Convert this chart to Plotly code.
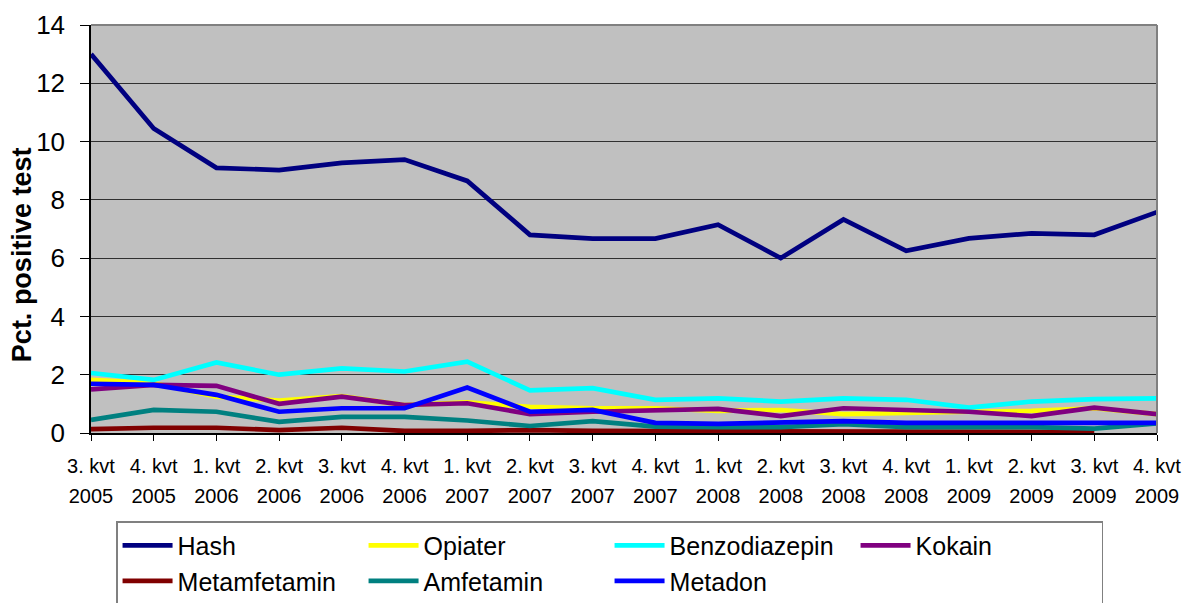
import plotly.graph_objects as go

quarters = ["3. kvt", "4. kvt", "1. kvt", "2. kvt", "3. kvt", "4. kvt", "1. kvt", "2. kvt", "3. kvt",
            "4. kvt", "1. kvt", "2. kvt", "3. kvt", "4. kvt", "1. kvt", "2. kvt", "3. kvt", "4. kvt"]
years = ["2005", "2005", "2006", "2006", "2006", "2006", "2007", "2007", "2007",
         "2007", "2008", "2008", "2008", "2008", "2009", "2009", "2009", "2009"]

hash_ = [13.0, 10.45, 9.1, 9.02, 9.27, 9.38, 8.65, 6.8, 6.67, 6.67, 7.15, 6.0, 7.33, 6.25, 6.68, 6.85, 6.8, 7.58]
opiater = [1.82, 1.71, 1.25, 1.11, 1.27, 0.96, 1.05, 0.9, 0.85, 0.85, 0.76, 0.79, 0.65, 0.71, 0.73, 0.76, 0.85, 0.65]
benzo = [2.06, 1.82, 2.42, 2.0, 2.22, 2.11, 2.45, 1.46, 1.54, 1.14, 1.19, 1.08, 1.19, 1.14, 0.87, 1.08, 1.16, 1.19]
kokain = [1.5, 1.65, 1.62, 1.0, 1.25, 0.96, 1.02, 0.65, 0.73, 0.79, 0.83, 0.58, 0.85, 0.79, 0.73, 0.58, 0.87, 0.65]
metamfetamin = [0.13, 0.18, 0.18, 0.1, 0.18, 0.07, 0.07, 0.1, 0.07, 0.07, 0.07, 0.05, 0.07, 0.07, 0.07, 0.07, 0.03, None]
amfetamin = [0.45, 0.79, 0.73, 0.38, 0.55, 0.55, 0.43, 0.24, 0.41, 0.22, 0.2, 0.2, 0.3, 0.2, 0.2, 0.2, 0.15, 0.33]
metadon = [1.69, 1.65, 1.31, 0.73, 0.85, 0.85, 1.56, 0.73, 0.79, 0.35, 0.31, 0.35, 0.41, 0.35, 0.35, 0.35, 0.35, 0.35]

series = [
    ("Hash", hash_, "#000080"),
    ("Opiater", opiater, "#FFFF00"),
    ("Benzodiazepin", benzo, "#00FFFF"),
    ("Kokain", kokain, "#800080"),
    ("Metamfetamin", metamfetamin, "#800000"),
    ("Amfetamin", amfetamin, "#008080"),
    ("Metadon", metadon, "#0000FF"),
]

x = list(range(len(quarters)))
fig = go.Figure()
for name, vals, col in series:
    fig.add_trace(go.Scatter(x=x, y=vals, name=name, mode="lines",
                             line=dict(color=col, width=4.7), connectgaps=False))

# invisible helper trace for the year axis
fig.add_trace(go.Scatter(x=x, y=[0] * len(x), xaxis="x2", mode="lines",
                         line=dict(width=0), showlegend=False, hoverinfo="skip", opacity=0))

font_main = "Liberation Sans, Arial, sans-serif"
fig.update_layout(
    width=1184, height=603,
    margin=dict(l=91, r=27, t=25, b=170, autoexpand=False),
    paper_bgcolor="white", plot_bgcolor="#C0C0C0",
    font=dict(family=font_main, color="black"),
    xaxis=dict(range=[0, len(x) - 1], tickmode="array", tickvals=x, ticktext=quarters,
               showgrid=False, zeroline=False, showline=True, linecolor="black", linewidth=1.5,
               ticks="outside", ticklen=6, tickcolor="black", tickfont=dict(size=20),
               ticklabelstandoff=8, tickangle=0, automargin=False),
    xaxis2=dict(overlaying="x", anchor="y", side="bottom", range=[0, len(x) - 1],
                tickmode="array", tickvals=x, ticktext=years, showgrid=False, zeroline=False,
                showline=False, ticks="", tickfont=dict(size=20), ticklabelstandoff=49, tickangle=0,
                automargin=False),
    yaxis=dict(range=[0, 14], tickmode="array", tickvals=[0, 2, 4, 6, 8, 10, 12, 14],
               showgrid=True, gridcolor="#303030", gridwidth=1.2, zeroline=False,
               showline=True, linecolor="black", linewidth=1.5,
               ticks="outside", ticklen=9, tickcolor="black", tickfont=dict(size=26),
               ticklabelstandoff=10, automargin=False),
    showlegend=True,
    legend=dict(orientation="h", x=0.0235, xanchor="left", y=-0.216, yanchor="top",
                bordercolor="#808080", borderwidth=1.5, bgcolor="white",
                font=dict(family=font_main, size=25),
                entrywidth=181, entrywidthmode="pixels", traceorder="normal",
                tracegroupgap=0, itemwidth=50),
    annotations=[dict(text="<b>Pct. positive test</b>", xref="paper", yref="paper",
                      x=-0.0647, y=0.436, xanchor="center", yanchor="middle",
                      textangle=-90, showarrow=False, font=dict(size=27, family=font_main))],
    shapes=[dict(type="line", xref="paper", yref="paper", x0=0, x1=1, y0=1, y1=1,
                 line=dict(color="#808080", width=2), layer="above"),
            dict(type="line", xref="paper", yref="paper", x0=1, x1=1, y0=0, y1=1,
                 line=dict(color="#808080", width=2), layer="above")],
)

fig.write_html("out.html", config={"displayModeBar": False},
               post_script="document.body.style.margin='0';document.body.style.overflow='hidden';")
